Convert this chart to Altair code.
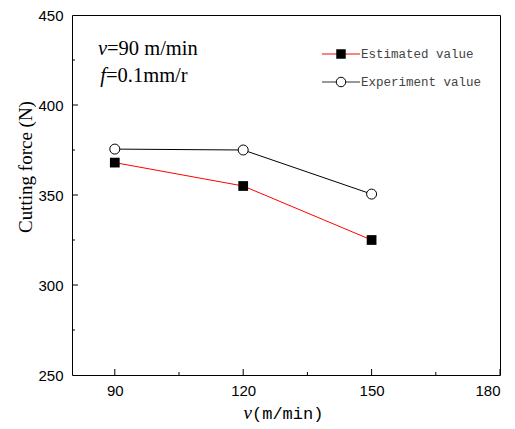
import altair as alt
import pandas as pd

speeds = [90, 120, 150]
estimated = [368, 355, 325]
experiment = [375.5, 375, 350.5]
series_names = ["Estimated value", "Experiment value"]

x_major = [90, 120, 150, 180]
x_minor = [105, 135, 165]
y_major = [300, 350, 400]
y_minor = [275, 325, 375, 425]

W, H = 428, 360

df = pd.DataFrame({
    "v": speeds * 2,
    "force": estimated + experiment,
    "series": [series_names[0]] * 3 + [series_names[1]] * 3,
})

xscale = alt.Scale(domain=[80, 180], nice=False, zero=False)
yscale = alt.Scale(domain=[250, 450], nice=False, zero=False)
cscale = alt.Scale(domain=series_names, range=["#ff0000", "#000000"])

xaxis = alt.Axis(
    values=x_major, title=None, tickSize=0, labelPadding=8, grid=False,
    labelFont="Liberation Sans", labelFontSize=15, labelColor="#000", domain=False)
yaxis = alt.Axis(
    values=[250, 300, 350, 400, 450], title=None, tickSize=0,
    labelPadding=9, grid=False, labelFont="Liberation Sans", labelFontSize=15,
    labelColor="#000", domain=False)

def X(f):
    return alt.X(f, scale=xscale, axis=xaxis, title=None)

def Y(f):
    return alt.Y(f, scale=yscale, axis=yaxis, title=None)

base = alt.Chart(df)

lines = base.mark_line(strokeWidth=1).encode(
    x=X("v:Q"), y=Y("force:Q"),
    color=alt.Color("series:N", scale=cscale, legend=None),
)

est_pts = alt.Chart(df[df.series == series_names[0]]).mark_point(
    shape="square", filled=True, size=95, color="#000", opacity=1
).encode(x=X("v:Q"), y=Y("force:Q"))

exp_pts = alt.Chart(df[df.series == series_names[1]]).mark_point(
    shape="circle", filled=True, size=100, fill="#fff", stroke="#000", strokeWidth=1, opacity=1
).encode(x=X("v:Q"), y=Y("force:Q"))

xt_major = alt.Chart(pd.DataFrame({"v": x_major})).mark_rule(color="#000").encode(
    x=X("v:Q"), y=alt.value(H), y2=alt.value(H - 6))
xt_minor = alt.Chart(pd.DataFrame({"v": x_minor})).mark_rule(color="#000").encode(
    x=X("v:Q"), y=alt.value(H), y2=alt.value(H - 3))
yt_major = alt.Chart(pd.DataFrame({"force": y_major})).mark_rule(color="#000").encode(
    y=Y("force:Q"), x=alt.value(0), x2=alt.value(6))
yt_minor = alt.Chart(pd.DataFrame({"force": y_minor})).mark_rule(color="#000").encode(
    y=Y("force:Q"), x=alt.value(0), x2=alt.value(3))

# legend
leg_y = [39, 67]
leg = []
for i, (name, col) in enumerate(zip(series_names, ["#ff0000", "#333333"])):
    d = pd.DataFrame({"name": [name]})
    leg.append(alt.Chart(d).mark_rule(color=col, strokeWidth=1).encode(
        x=alt.value(250), x2=alt.value(288), y=alt.value(leg_y[i])))
    leg.append(alt.Chart(d).mark_text(
        align="left", baseline="middle", font="Liberation Mono", fontSize=12.5, color="#444"
    ).encode(x=alt.value(289), y=alt.value(leg_y[i]), text="name:N"))
leg.append(alt.Chart(pd.DataFrame({"n": [0]})).mark_point(
    shape="square", filled=True, size=90, color="#000", opacity=1
).encode(x=alt.value(269), y=alt.value(leg_y[0])))
leg.append(alt.Chart(pd.DataFrame({"n": [0]})).mark_point(
    shape="circle", filled=True, size=90, fill="#fff", stroke="#000", strokeWidth=1, opacity=1
).encode(x=alt.value(269), y=alt.value(leg_y[1])))

# annotations
def txt(s, x, y, align, style="normal", font="Liberation Serif", size=20.5, angle=0):
    return alt.Chart(pd.DataFrame({"s": [s]})).mark_text(
        align=align, baseline="alphabetic", font=font, fontSize=size,
        fontStyle=style, color="#000", angle=angle
    ).encode(x=alt.value(x), y=alt.value(y), text="s:N")

ann = [
    txt("v", 35, 40, "right", "italic"),
    txt("=90 m/min", 35, 40, "left"),
    txt("f", 34, 67, "right", "italic"),
    txt("=0.1mm/r", 34, 67, "left"),
    txt("v", 180, 44 + H, "right", "italic", size=19),
    txt("(m/min)", 180, 44 + H, "left", font="Liberation Mono", size=17),
    txt("Cutting force (N)", -40, 152, "center", size=19, angle=270),
]

chart = alt.layer(
    lines, est_pts, exp_pts, xt_major, xt_minor, yt_major, yt_minor, *leg, *ann
).properties(
    width=W, height=H, background="#ffffff",
    padding={"left": 72, "top": 15, "right": 15, "bottom": 54},
    autosize=alt.AutoSizeParams(type="none"),
).configure_view(stroke="#000000", strokeWidth=1)

chart.save("out.html", embed_options={"renderer": "svg", "actions": False})
